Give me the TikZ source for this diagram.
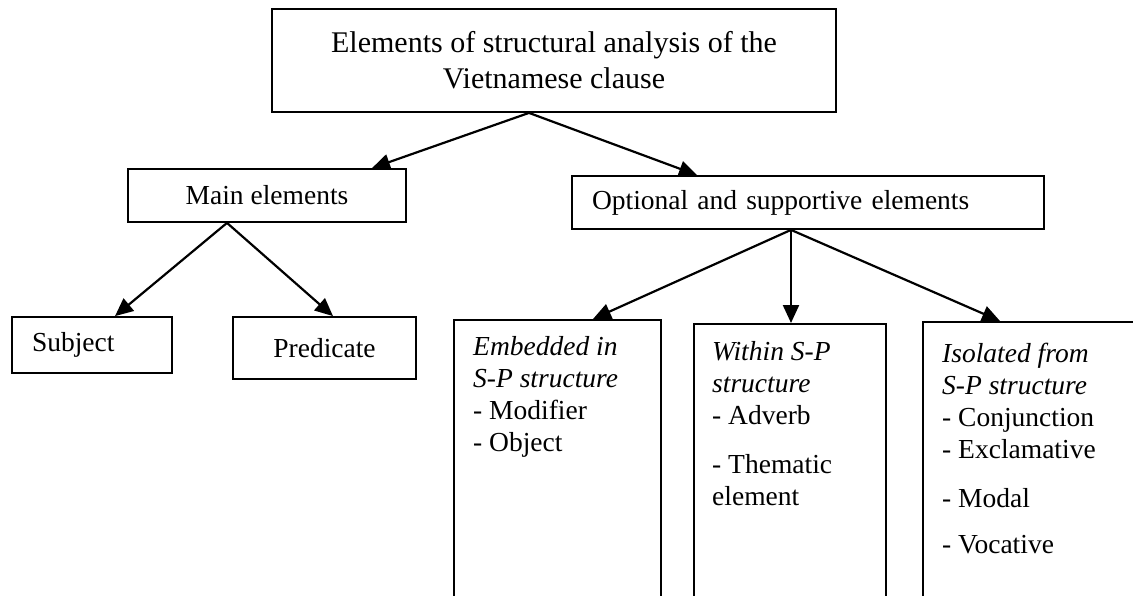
\documentclass[tikz,border=0pt]{standalone}
\usepackage{fontspec}
\setmainfont{Liberation Serif}
\usetikzlibrary{arrows.meta}
\tikzset{
  box/.style={draw,line width=1.8pt,inner sep=0pt,align=center},
  tallbox/.style={draw,line width=1.8pt,anchor=north west,minimum height=300pt,inner sep=0pt},
  boxtext/.style={anchor=north west,inner sep=0pt,align=left},
  link/.style={-{Triangle[length=18pt,width=16pt]},line width=2.2pt}
}
\begin{document}
\begin{tikzpicture}[x=1pt,y=-1pt,font=\fontsize{27.5}{32}\selectfont]
  \useasboundingbox (0,0) rectangle (1133,596);
  \clip (0,0) rectangle (1133,596);

  % top and second level
  \path (554,60.5) node[box,minimum width=564pt,minimum height=103pt,
        font=\fontsize{30}{36}\selectfont] (top)
        {Elements of structural analysis of the\\Vietnamese clause};
  \path (267,195.5) node[box,minimum width=278pt,minimum height=53pt] (main) {Main elements};
  \path (808,202.5) node[box,minimum width=472pt,minimum height=53pt,
        text width=432pt,align=left] (opt) {Optional and supportive elements};

  % main elements
  \path (92,345) node[box,minimum width=160pt,minimum height=56pt,
        text width=120pt,align=left] (subj) {Subject};
  \path (324.5,348) node[box,minimum width=183pt,minimum height=62pt] (pred) {Predicate};

  % optional elements, boxes run off the bottom
  \path (453,319) node[tallbox,minimum width=207pt] (embed) {};
  \path (693,323) node[tallbox,minimum width=192pt] (within) {};
  \path (922,321) node[tallbox,minimum width=230pt] (isol) {};

  \path ([xshift=20pt,yshift=-17pt]embed.north west) node[boxtext] (embedtxt)
        {\textit{Embedded in}\\\textit{S-P structure}\\- Modifier\\- Object};
  \path ([xshift=19pt,yshift=-18pt]within.north west) node[boxtext] (withintxt)
        {\textit{Within S-P}\\\textit{structure}\\- Adverb\\[17pt]- Thematic\\element};
  \path ([xshift=20pt,yshift=-22pt]isol.north west) node[boxtext] (isoltxt)
        {\textit{Isolated from}\\\textit{S-P structure}\\- Conjunction\\- Exclamative\\[17pt]- Modal\\[14pt]- Vocative};

  \draw[link] ([xshift=-25pt]top.south) -- ([xshift=105pt]main.north);
  \draw[link] ([xshift=-25pt]top.south) -- ([xshift=-111pt]opt.north);
  \draw[link] ([xshift=-40pt]main.south) -- ([xshift=23pt]subj.north);
  \draw[link] ([xshift=-40pt]main.south) -- ([xshift=8.5pt]pred.north);
  \draw[link] ([xshift=-17pt]opt.south) -- ([xshift=140pt]embed.north west);
  \draw[link] ([xshift=-17pt]opt.south) -- ([xshift=98pt]within.north west);
  \draw[link] ([xshift=-17pt]opt.south) -- ([xshift=78pt]isol.north west);
\end{tikzpicture}
\end{document}
